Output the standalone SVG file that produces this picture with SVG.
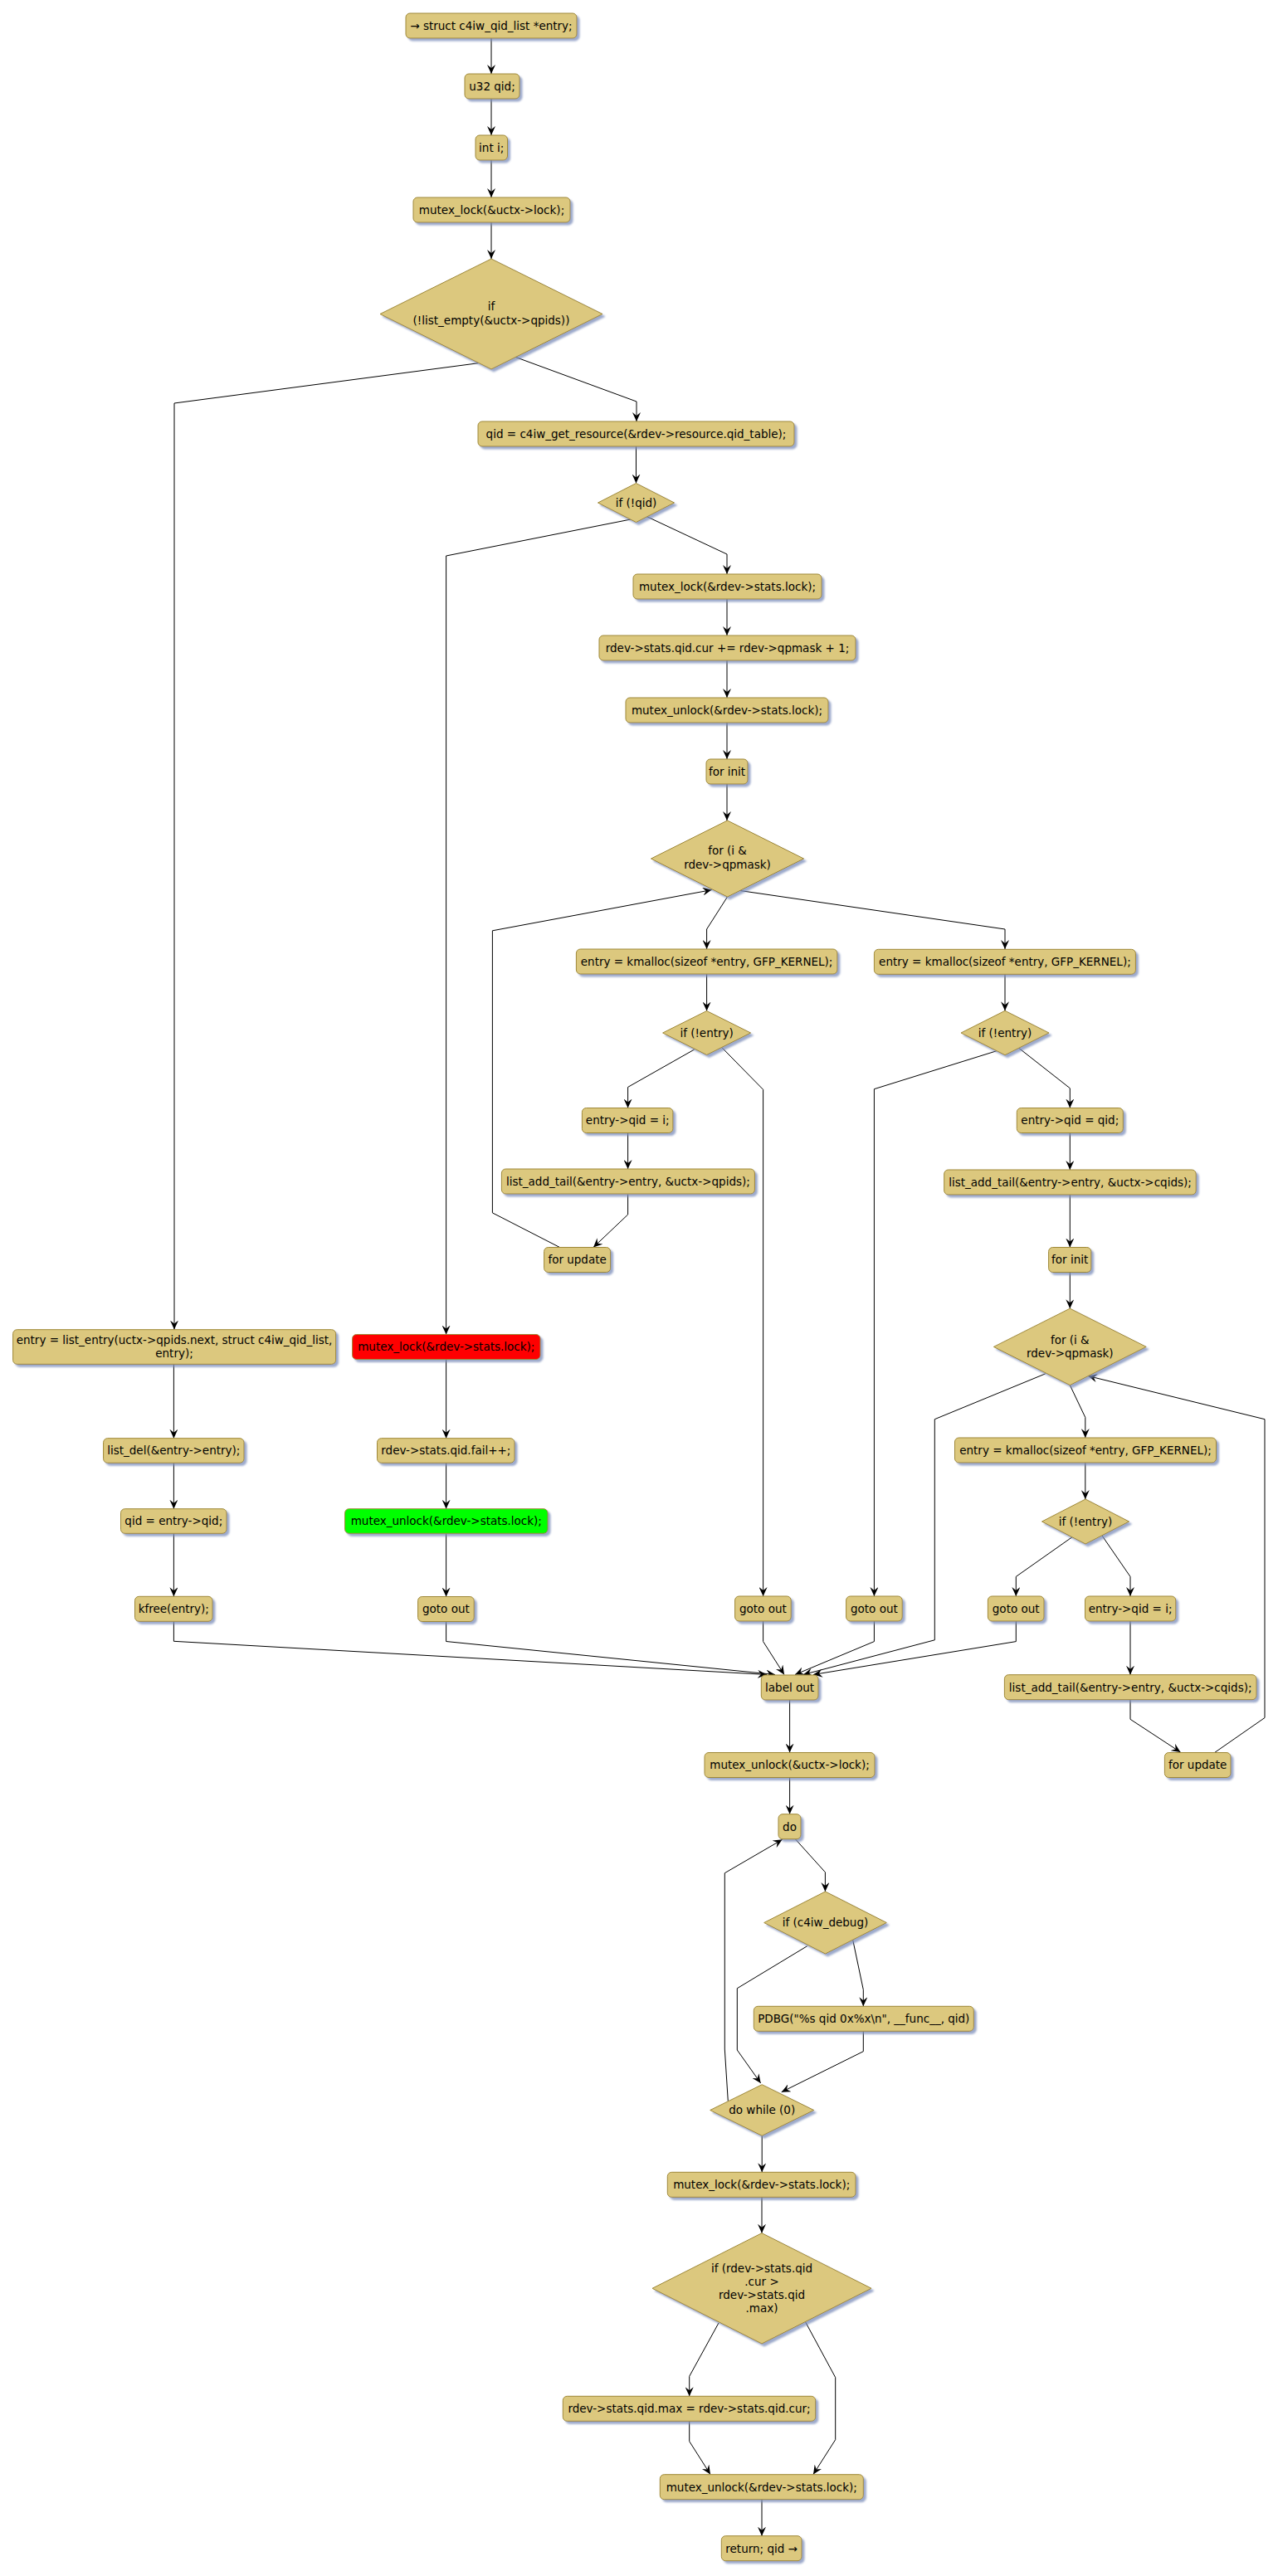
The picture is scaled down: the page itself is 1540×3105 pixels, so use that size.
<svg xmlns="http://www.w3.org/2000/svg" width="1540" height="3105" viewBox="0 0 1540 3105">
<style>
.n rect,.n polygon{fill:#DCC87E;stroke:#9E8838;stroke-width:1;filter:url(#sh)}
.n.red rect{fill:#FF0000}
.n.green rect{fill:#00FF00}
text{font-family:"DejaVu Sans","Liberation Sans",sans-serif;font-size:13.5px;fill:#000;text-anchor:middle}
#edges polyline{fill:none;stroke:#000;stroke-width:1;marker-end:url(#ah)}
</style>
<defs>
<filter id="sh" x="-10%" y="-20%" width="130%" height="160%">
<feDropShadow dx="3" dy="3" stdDeviation="1.2" flood-color="#7C8DBA" flood-opacity="0.75"/>
</filter>
<marker id="ah" markerUnits="userSpaceOnUse" viewBox="0 0 11 10" markerWidth="11" markerHeight="10" refX="11" refY="5" orient="auto">
<path d="M0,0 L11,5 L0,10 L4,5 Z" fill="#000"/>
</marker>
</defs>
<rect width="1540" height="3105" fill="#FFFFFF"/>
<g id="edges">
<polyline points="592,46 592,89"/>
<polyline points="592,119 592,163"/>
<polyline points="592,193 592,238"/>
<polyline points="592,268 592,312"/>
<polyline points="576.5,437.7 210,486 210,1602.5"/>
<polyline points="620,430 767,484 767,508"/>
<polyline points="766.5,538 766.5,582.5"/>
<polyline points="760,626 537.6,670 537.6,1608.5"/>
<polyline points="778,622 876,668 876,692"/>
<polyline points="876,722 876,766"/>
<polyline points="876,796 876,841"/>
<polyline points="876,871 876,915"/>
<polyline points="876,945 876,989"/>
<polyline points="876.5,1081 851.6,1120 851.6,1144"/>
<polyline points="891,1073.4 1211,1120 1211,1144"/>
<polyline points="851.6,1174 851.6,1218.5"/>
<polyline points="836.7,1265 756.6,1310.4 756.6,1335.5"/>
<polyline points="870,1262.8 919.6,1313.3 919.6,1924"/>
<polyline points="756.6,1365.5 756.6,1409"/>
<polyline points="756.6,1439.6 756.6,1464 715,1503.5"/>
<polyline points="674.5,1503.5 593.4,1461.9 593.4,1121.8 857.6,1072.6"/>
<polyline points="1211,1174.3 1211,1218.3"/>
<polyline points="1201,1266.7 1053.4,1312.7 1053.4,1924"/>
<polyline points="1227.7,1263.3 1289.3,1311.7 1289.3,1335.5"/>
<polyline points="1289.3,1365.5 1289.3,1410"/>
<polyline points="1289.3,1440 1289.3,1503.5"/>
<polyline points="1289.3,1533.5 1289.3,1577.2"/>
<polyline points="1259.8,1655.8 1126.3,1710.7 1126.3,1976.8 968,2018.5"/>
<polyline points="1289.3,1669.6 1307.8,1708.5 1307.8,1733"/>
<polyline points="1307.8,1763 1307.8,1807"/>
<polyline points="1292,1852.7 1224.3,1900.4 1224.3,1924"/>
<polyline points="1328,1851 1362,1900.4 1362,1924"/>
<polyline points="1362,1954 1362,2018.7"/>
<polyline points="1362,2049 1362,2072.3 1422.5,2112"/>
<polyline points="1463.6,2112.5 1524,2070.5 1524,1710.7 1311,1658.5"/>
<polyline points="209.4,1644.3 209.4,1733.7"/>
<polyline points="209.4,1763.3 209.4,1818.7"/>
<polyline points="209.4,1848.3 209.4,1924.3"/>
<polyline points="209.4,1954.3 209.4,1978.3 924,2018.5"/>
<polyline points="537.6,1638.5 537.6,1733.7"/>
<polyline points="537.6,1763.3 537.6,1818.7"/>
<polyline points="537.6,1848.3 537.6,1924.5"/>
<polyline points="537.6,1954.5 537.6,1978.5 934,2018.5"/>
<polyline points="919.6,1954 919.6,1978.6 945,2018.5"/>
<polyline points="1053.4,1954 1053.4,1978.6 958,2018.5"/>
<polyline points="1224.3,1954 1224.3,1978.6 980,2018.5"/>
<polyline points="951.6,2049 951.6,2112.5"/>
<polyline points="951.6,2142.5 951.6,2186.7"/>
<polyline points="958.3,2216.7 994.4,2256.7 994.4,2280"/>
<polyline points="1027.7,2338.3 1040.3,2398.3 1040.3,2418.3"/>
<polyline points="972.7,2345.7 888.3,2396.7 888.3,2471 916.7,2511"/>
<polyline points="1040.3,2448.3 1040.3,2472.7 941.7,2521.7"/>
<polyline points="877.3,2532.7 873.3,2470 873.3,2257.7 942.7,2217.3"/>
<polyline points="918.2,2574.3 918.2,2618.3"/>
<polyline points="918,2648.3 918,2691.7"/>
<polyline points="866,2800 830.7,2864.3 830.7,2888.3"/>
<polyline points="970.7,2799 1006.7,2865.7 1006.7,2940.7 980,2982.5"/>
<polyline points="830.7,2918.3 830.7,2942.7 856,2982.5"/>
<polyline points="918,3012.7 918,3056.7"/>
</g>
<g id="n1" class="n"><rect x="489" y="16" width="206" height="30" rx="5"/><text x="592" y="35.8">→ struct c4iw_qid_list *entry;</text></g>
<g id="n2" class="n"><rect x="560" y="89" width="66" height="30" rx="5"/><text x="593" y="108.8">u32 qid;</text></g>
<g id="n3" class="n"><rect x="573" y="163" width="38.5" height="30" rx="5"/><text x="592.2" y="182.8">int i;</text></g>
<g id="n4" class="n"><rect x="498" y="238" width="189" height="30" rx="5"/><text x="592.5" y="257.8">mutex_lock(&amp;uctx-&gt;lock);</text></g>
<g id="d1" class="n"><polygon points="592,312 726,378.5 592,445 458,378.5"/><text x="592" y="373.8">if</text><text x="592" y="390.8">(!list_empty(&amp;uctx-&gt;qpids))</text></g>
<g id="n5" class="n"><rect x="576" y="508" width="381" height="30" rx="5"/><text x="766.5" y="527.8">qid = c4iw_get_resource(&amp;rdev-&gt;resource.qid_table);</text></g>
<g id="d2" class="n"><polygon points="766.5,582.5 812.5,606 766.5,629.5 720.5,606"/><text x="766.5" y="610.8">if (!qid)</text></g>
<g id="n6" class="n"><rect x="763" y="692" width="227" height="30" rx="5"/><text x="876.5" y="711.8">mutex_lock(&amp;rdev-&gt;stats.lock);</text></g>
<g id="n7" class="n"><rect x="722" y="766" width="309" height="30" rx="5"/><text x="876.5" y="785.8">rdev-&gt;stats.qid.cur += rdev-&gt;qpmask + 1;</text></g>
<g id="n8" class="n"><rect x="754" y="841" width="244" height="30" rx="5"/><text x="876" y="860.8">mutex_unlock(&amp;rdev-&gt;stats.lock);</text></g>
<g id="n9" class="n"><rect x="851" y="915" width="50" height="30" rx="5"/><text x="876" y="934.8">for init</text></g>
<g id="d3" class="n"><polygon points="876.5,989 968.5,1035 876.5,1081 784.5,1035"/><text x="876.5" y="1030.2">for (i &amp;</text><text x="876.5" y="1046.6">rdev-&gt;qpmask)</text></g>
<g id="n10" class="n"><rect x="694.4" y="1144" width="314.5" height="30" rx="5"/><text x="851.6" y="1163.8">entry = kmalloc(sizeof *entry, GFP_KERNEL);</text></g>
<g id="d4" class="n"><polygon points="851.6,1218.5 904.6,1245 851.6,1271.5 798.6,1245"/><text x="851.6" y="1249.8">if (!entry)</text></g>
<g id="n11" class="n"><rect x="701.4" y="1335.5" width="109.5" height="30" rx="5"/><text x="756.2" y="1355.3">entry-&gt;qid = i;</text></g>
<g id="n12" class="n"><rect x="604.4" y="1409" width="305" height="30" rx="5"/><text x="756.9" y="1428.8">list_add_tail(&amp;entry-&gt;entry, &amp;uctx-&gt;qpids);</text></g>
<g id="n13" class="n"><rect x="655.6" y="1503.5" width="80" height="30" rx="5"/><text x="695.6" y="1523.3">for update</text></g>
<g id="n14" class="n"><rect x="1053.4" y="1144.3" width="315" height="30" rx="5"/><text x="1210.9" y="1164.1">entry = kmalloc(sizeof *entry, GFP_KERNEL);</text></g>
<g id="d5" class="n"><polygon points="1211,1218.3 1264,1245 1211,1271.7 1158,1245"/><text x="1211" y="1249.8">if (!entry)</text></g>
<g id="n15" class="n"><rect x="1225.3" y="1335.5" width="128" height="30" rx="5"/><text x="1289.3" y="1355.3">entry-&gt;qid = qid;</text></g>
<g id="n16" class="n"><rect x="1137.7" y="1410" width="303.5" height="30" rx="5"/><text x="1289.5" y="1429.8">list_add_tail(&amp;entry-&gt;entry, &amp;uctx-&gt;cqids);</text></g>
<g id="n17" class="n"><rect x="1263.6" y="1503.5" width="51.2" height="30" rx="5"/><text x="1289.2" y="1523.3">for init</text></g>
<g id="d6" class="n"><polygon points="1289.3,1577.2 1381.2,1623.4 1289.3,1669.6 1197.4,1623.4"/><text x="1289.3" y="1619.5">for (i &amp;</text><text x="1289.3" y="1635.6">rdev-&gt;qpmask)</text></g>
<g id="n18" class="n"><rect x="1150.5" y="1733" width="315" height="30" rx="5"/><text x="1308" y="1752.8">entry = kmalloc(sizeof *entry, GFP_KERNEL);</text></g>
<g id="d7" class="n"><polygon points="1308,1807 1360.5,1834 1308,1861 1255.5,1834"/><text x="1308" y="1838.8">if (!entry)</text></g>
<g id="n19" class="n"><rect x="1190.4" y="1924" width="67.6" height="30" rx="5"/><text x="1224.2" y="1943.8">goto out</text></g>
<g id="n20" class="n"><rect x="1307.5" y="1924" width="109.3" height="30" rx="5"/><text x="1362.1" y="1943.8">entry-&gt;qid = i;</text></g>
<g id="n21" class="n"><rect x="1210.4" y="2018.7" width="303.6" height="30" rx="5"/><text x="1362.2" y="2038.5">list_add_tail(&amp;entry-&gt;entry, &amp;uctx-&gt;cqids);</text></g>
<g id="n22" class="n"><rect x="1403.4" y="2112.5" width="79.6" height="30" rx="5"/><text x="1443.2" y="2132.3">for update</text></g>
<g id="n23" class="n"><rect x="15.6" y="1602.7" width="389" height="41.6" rx="5"/><text x="210" y="1619.8">entry = list_entry(uctx-&gt;qpids.next, struct c4iw_qid_list,</text><text x="210" y="1635.8">entry);</text></g>
<g id="n24" class="n"><rect x="124.6" y="1733.7" width="169.4" height="29.6" rx="5"/><text x="209.3" y="1753.3">list_del(&amp;entry-&gt;entry);</text></g>
<g id="n25" class="n"><rect x="145.5" y="1818.7" width="127.5" height="29.6" rx="5"/><text x="209.3" y="1838.3">qid = entry-&gt;qid;</text></g>
<g id="n26" class="n"><rect x="162.5" y="1924.3" width="93.5" height="30" rx="5"/><text x="209.3" y="1944.1">kfree(entry);</text></g>
<g id="n27" class="n red"><rect x="424.6" y="1608.5" width="226.4" height="30" rx="5"/><text x="537.8" y="1628.3">mutex_lock(&amp;rdev-&gt;stats.lock);</text></g>
<g id="n28" class="n"><rect x="454.5" y="1733.7" width="165.5" height="29.6" rx="5"/><text x="537.3" y="1753.3">rdev-&gt;stats.qid.fail++;</text></g>
<g id="n29" class="n green"><rect x="415.6" y="1818.7" width="244.4" height="29.6" rx="5"/><text x="537.8" y="1838.3">mutex_unlock(&amp;rdev-&gt;stats.lock);</text></g>
<g id="n30" class="n"><rect x="503.6" y="1924.5" width="67.6" height="30" rx="5"/><text x="537.4" y="1944.3">goto out</text></g>
<g id="n31" class="n"><rect x="885.6" y="1924" width="67.6" height="30" rx="5"/><text x="919.4" y="1943.8">goto out</text></g>
<g id="n32" class="n"><rect x="1019.6" y="1924" width="67.6" height="30" rx="5"/><text x="1053.4" y="1943.8">goto out</text></g>
<g id="n33" class="n"><rect x="917.3" y="2019" width="68.7" height="30" rx="5"/><text x="951.6" y="2038.8">label out</text></g>
<g id="n34" class="n"><rect x="849" y="2112.5" width="205" height="30" rx="5"/><text x="951.5" y="2132.3">mutex_unlock(&amp;uctx-&gt;lock);</text></g>
<g id="n35" class="n"><rect x="938" y="2186.7" width="27" height="30" rx="5"/><text x="951.5" y="2206.5">do</text></g>
<g id="d8" class="n"><polygon points="994.5,2280 1068.3,2317.5 994.5,2355 920.7,2317.5"/><text x="994.5" y="2322.3">if (c4iw_debug)</text></g>
<g id="n36" class="n"><rect x="908.3" y="2418.3" width="265" height="30" rx="5"/><text x="1040.8" y="2438.1">PDBG("%s qid 0x%x\n", __func__, qid)</text></g>
<g id="d9" class="n"><polygon points="918.2,2512.7 980.7,2543.5 918.2,2574.3 855.7,2543.5"/><text x="918.2" y="2548.3">do while (0)</text></g>
<g id="n37" class="n"><rect x="804.3" y="2618.3" width="226.7" height="30" rx="5"/><text x="917.7" y="2638.1">mutex_lock(&amp;rdev-&gt;stats.lock);</text></g>
<g id="d10" class="n"><polygon points="918,2691.7 1050,2758.3 918,2825 786,2758.3"/><text x="918" y="2738.8">if (rdev-&gt;stats.qid</text><text x="918" y="2755">.cur &gt;</text><text x="918" y="2771.2">rdev-&gt;stats.qid</text><text x="918" y="2787.4">.max)</text></g>
<g id="n38" class="n"><rect x="678.3" y="2888.3" width="304.4" height="30" rx="5"/><text x="830.5" y="2908.1">rdev-&gt;stats.qid.max = rdev-&gt;stats.qid.cur;</text></g>
<g id="n39" class="n"><rect x="795.3" y="2982.7" width="245" height="30" rx="5"/><text x="917.8" y="3002.5">mutex_unlock(&amp;rdev-&gt;stats.lock);</text></g>
<g id="n40" class="n"><rect x="869.3" y="3056.7" width="96.7" height="30" rx="5"/><text x="917.6" y="3076.5">return; qid →</text></g>
</svg>
